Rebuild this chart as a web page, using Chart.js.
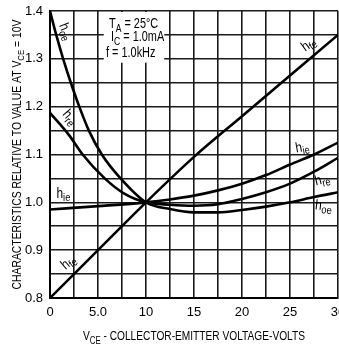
<!DOCTYPE html>
<html>
<head>
<meta charset="utf-8">
<script src="https://cdn.jsdelivr.net/npm/chart.js@4"></script>
<style>
  html, body { margin: 0; padding: 0; background: #fff; }
</style>
</head>
<body>
<canvas id="myChart" width="339" height="346"></canvas>
<script>
// data (VCE in volts, ratio to value at VCE = 10V)
const hoeV = [0, 0.65, 1.37, 2.17, 3.05, 4.05, 5.4, 7.35, 10, 12.5, 15, 17.5, 20, 22.5, 25, 27.5, 30];
const hoeR = [1.40, 1.35, 1.30, 1.25, 1.20, 1.15, 1.10, 1.05, 1.00, 0.986, 0.979, 0.979, 0.984, 0.991, 1.000, 1.011, 1.021];
const hreV = [0, 2, 3.4, 5.7, 7.6, 10, 12.5, 15, 17.5, 20, 22.5, 25, 27.5, 30];
const hreR = [1.187, 1.14, 1.10, 1.05, 1.02, 1.00, 0.995, 0.993, 0.996, 1.007, 1.021, 1.039, 1.064, 1.093];
const hieV = [0, 5, 10, 12.5, 15, 17.5, 20, 22.5, 25, 27.5, 30];
const hieR = [0.985, 0.992, 1.00, 1.006, 1.014, 1.025, 1.039, 1.057, 1.079, 1.10, 1.125];
const hfeV = [0, 5, 10, 15, 20, 25, 30];
const hfeR = [0.80, 0.90, 1.00, 1.095, 1.18, 1.265, 1.35];

const xTickValues = [0, 5, 10, 15, 20, 25, 30];
const xTickText = ['0', '5.0', '10', '15', '20', '25', '30'];
const yTickValues = [0.8, 0.9, 1.0, 1.1, 1.2, 1.3, 1.4];
const yTickText = ['0.8', '0.9', '1.0', '1.1', '1.2', '1.3', '1.4'];

const FONT = '"Liberation Sans", Arial, sans-serif';

const toPts = (xs, ys) => xs.map((v, i) => ({ x: v, y: ys[i] }));

const lineStyle = {
  showLine: true,
  borderColor: '#000',
  borderWidth: 2.6,
  pointRadius: 0,
  cubicInterpolationMode: 'monotone',
  fill: false
};

const data = {
  datasets: [
    { label: 'hoe', data: toPts(hoeV, hoeR), ...lineStyle },
    { label: 'hre', data: toPts(hreV, hreR), ...lineStyle },
    { label: 'hie', data: toPts(hieV, hieR), ...lineStyle },
    { label: 'hfe', data: toPts(hfeV, hfeR), ...lineStyle }
  ]
};

// curve labels: h + subscript, placed in data coords
const curveLabels = [
  { v: 1.55, r: 1.356, rot: 68, sub: 'oe' },
  { v: 2.0, r: 1.176, rot: 50, sub: 're' },
  { v: 27.0, r: 1.329, rot: -36, sub: 'fe' },
  { v: 26.3, r: 1.113, rot: -10, sub: 'ie' },
  { v: 28.4, r: 1.045, rot: -14, sub: 're' },
  { v: 28.5, r: 0.990, rot: 6, sub: 'oe' },
  { v: 1.4, r: 1.016, rot: 0, sub: 'ie' },
  { v: 2.0, r: 0.873, rot: -40, sub: 'fe' }
];

// text runs: [text, isSubscript]; sx squeezes the glyphs like the narrow print face
function richWidth(ctx, parts, size, subSize, sx) {
  let w = 0;
  parts.forEach(p => {
    ctx.font = (p[1] ? subSize : size) + 'px ' + FONT;
    w += ctx.measureText(p[0]).width;
  });
  return w * sx;
}
function drawRich(ctx, parts, x, y, size, subSize, drop, sx) {
  ctx.save();
  ctx.translate(x, y);
  ctx.scale(sx, 1);
  let cx = 0;
  parts.forEach(p => {
    ctx.font = (p[1] ? subSize : size) + 'px ' + FONT;
    ctx.fillText(p[0], cx, p[1] ? drop : 0);
    cx += ctx.measureText(p[0]).width;
  });
  ctx.restore();
}

const textLayer = {
  id: 'textLayer',
  beforeDatasetsDraw(chart) {
    const { ctx, scales: { x, y } } = chart;
    // white patch behind the conditions block
    ctx.save();
    ctx.fillStyle = '#fff';
    const l = x.getPixelForValue(5.6), r = x.getPixelForValue(11.9);
    const t = y.getPixelForValue(1.4) + 1, b = y.getPixelForValue(1.292);
    ctx.fillRect(l, t, r - l, b - t);
    ctx.restore();
  },
  afterDraw(chart) {
    const { ctx, chartArea, scales: { x, y } } = chart;
    ctx.save();
    ctx.fillStyle = '#000';
    ctx.textBaseline = 'alphabetic';
    ctx.textAlign = 'left';

    // test conditions
    drawRich(ctx, [['T', 0], ['A', 1], [' = 25°C', 0]], 109, 28, 14, 11, 4, 0.78);
    drawRich(ctx, [['I', 0], ['C', 1], [' = 1.0mA', 0]], 111, 41, 14, 11, 4, 0.78);
    drawRich(ctx, [['f = 1.0kHz', 0]], 106, 57, 14, 11, 4, 0.78);

    // curve labels
    curveLabels.forEach(c => {
      const px = x.getPixelForValue(c.v), py = y.getPixelForValue(c.r);
      const parts = [['h', 0], [c.sub, 1]];
      const w = richWidth(ctx, parts, 14, 11, 0.85);
      ctx.save();
      ctx.translate(px, py);
      ctx.rotate(c.rot * Math.PI / 180);
      drawRich(ctx, parts, -w / 2, 3, 14, 11, 3, 0.85);
      ctx.restore();
    });

    // x axis title, squeezed to the printed length
    const xt = [['V', 0], ['CE', 1], [' - COLLECTOR-EMITTER VOLTAGE-VOLTS', 0]];
    const xsx = 222 / richWidth(ctx, xt, 13, 10, 1);
    const xw = richWidth(ctx, xt, 13, 10, xsx);
    drawRich(ctx, xt, (chartArea.left + chartArea.right) / 2 - xw / 2, 340, 13, 10, 4, xsx);

    // y axis title
    const yt = [['CHARACTERISTICS RELATIVE TO VALUE AT V', 0], ['CE', 1], [' = 10V', 0]];
    const ysx = 270 / richWidth(ctx, yt, 12, 9, 1);
    const yw = richWidth(ctx, yt, 12, 9, ysx);
    ctx.translate(20.5, (chartArea.top + chartArea.bottom) / 2);
    ctx.rotate(-Math.PI / 2);
    drawRich(ctx, yt, -yw / 2, 0, 12, 9, 3, ysx);
    ctx.restore();
  }
};

const config = {
  type: 'scatter',
  data,
  options: {
    responsive: false,
    animation: false,
    devicePixelRatio: 1,
    layout: { padding: { top: 11, right: 1, left: 0, bottom: 0 } },
    plugins: { legend: { display: false }, tooltip: { enabled: false } },
    scales: {
      x: {
        type: 'linear',
        min: 0,
        max: 30,
        border: { display: true, color: '#000', width: 2 },
        grid: { color: '#1a1a1a', lineWidth: 1.6, drawTicks: false },
        ticks: {
          stepSize: 2.5,
          padding: 7,
          maxRotation: 0,
          autoSkip: false,
          color: '#000',
          font: { family: FONT, size: 13 },
          callback: (v) => {
            const i = xTickValues.indexOf(v);
            return i >= 0 ? xTickText[i] : '';
          }
        },
        afterFit(scale) {
          scale.height = 48;
          scale.paddingLeft = 0;
          scale.paddingRight = 0;
        }
      },
      y: {
        type: 'linear',
        min: 0.8,
        max: 1.4,
        border: { display: true, color: '#000', width: 2 },
        grid: { color: '#1a1a1a', lineWidth: 1.6, drawTicks: false },
        ticks: {
          stepSize: 0.05,
          padding: 7,
          autoSkip: false,
          color: '#000',
          font: { family: FONT, size: 13 },
          callback: (v) => {
            const i = yTickValues.findIndex(t => Math.abs(t - v) < 1e-6);
            return i >= 0 ? yTickText[i] : '';
          }
        },
        afterFit(scale) {
          scale.width = 50;
          scale.paddingTop = 0;
          scale.paddingBottom = 0;
        }
      }
    }
  },
  plugins: [textLayer]
};

const myChart = new Chart(document.getElementById('myChart'), config);
</script>
</body>
</html>
